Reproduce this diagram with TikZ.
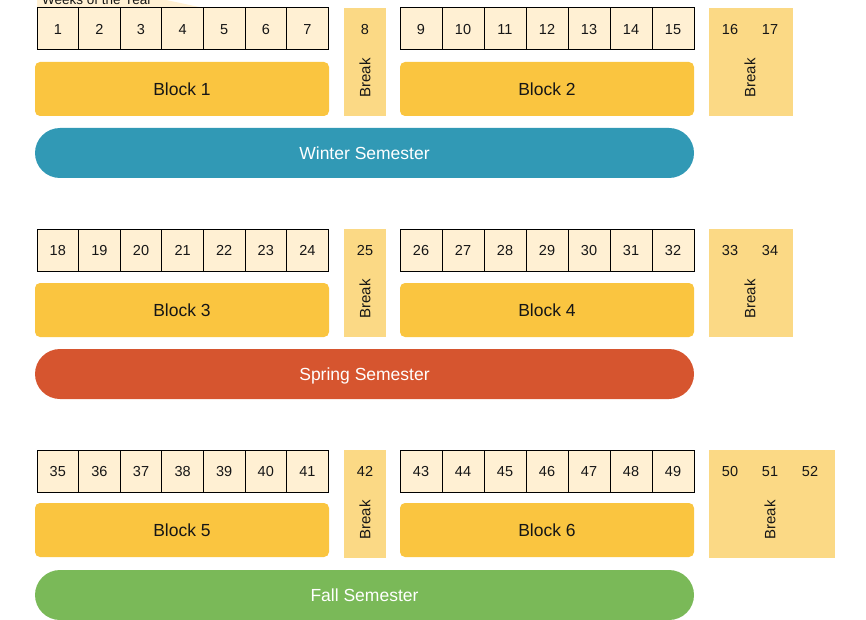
\documentclass[tikz,border=0pt]{standalone}
\usepackage{fontspec}
\setmainfont{Liberation Sans}
\definecolor{weekfill}{HTML}{FFF0D3}
\definecolor{blockfill}{HTML}{FAC540}
\definecolor{breakfill}{HTML}{FBD985}
\definecolor{winter}{HTML}{3199B5}
\definecolor{spring}{HTML}{D6552F}
\definecolor{fall}{HTML}{7AB958}
\definecolor{ink}{HTML}{161616}
\begin{document}
\begin{tikzpicture}[x=1pt,y=-1pt,text=ink,
    week/.style={draw,line width=1pt,fill=weekfill,minimum width=41.6pt,minimum height=42pt,inner sep=0pt,text height=10.5pt,text depth=0pt,font=\fontsize{14.5}{16}\selectfont},
    block/.style={fill=blockfill,rounded corners=5pt,minimum width=294pt,minimum height=54pt,text height=12.5pt,text depth=0pt,font=\fontsize{17.5}{20}\selectfont},
    breakbox/.style={fill=breakfill,inner sep=0pt,minimum height=108pt},
    breaknum/.style={text height=10.5pt,text depth=0pt,font=\fontsize{14.5}{16}\selectfont},
    breaklabel/.style={rotate=90,font=\fontsize{15}{16}\selectfont},
    semester/.style={rounded corners=25pt,minimum width=659pt,minimum height=50pt,text=white,text height=12.5pt,text depth=0pt,font=\fontsize{17.5}{20}\selectfont}]
    \useasboundingbox (0,0) rectangle (866,620);
    \clip (0,0) rectangle (866,620);

    % tab
    \fill[weekfill] (37,8) -- (37,-14) -- (100,-14) -- (204,8) -- cycle;
    \node[anchor=base west,inner sep=0pt,font=\fontsize{13.5}{15}\selectfont] (tab) at (42,5) {Weeks of the Year};

    % winter
    \node[week] (w1) at (57.8,29) {1};
    \node[week] (w2) at (99.4,29) {2};
    \node[week] (w3) at (141.0,29) {3};
    \node[week] (w4) at (182.6,29) {4};
    \node[week] (w5) at (224.2,29) {5};
    \node[week] (w6) at (265.8,29) {6};
    \node[week] (w7) at (307.4,29) {7};
    \node[breakbox,minimum width=42pt] (k8) at (365,62) {};
    \node[breaknum] (n8) at (365,29) {8};
    \node[breaklabel] (l8) at (365,78) {Break};
    \node[week,minimum width=42pt] (w9) at (421,29) {9};
    \node[week,minimum width=42pt] (w10) at (463,29) {10};
    \node[week,minimum width=42pt] (w11) at (505,29) {11};
    \node[week,minimum width=42pt] (w12) at (547,29) {12};
    \node[week,minimum width=42pt] (w13) at (589,29) {13};
    \node[week,minimum width=42pt] (w14) at (631,29) {14};
    \node[week,minimum width=42pt] (w15) at (673,29) {15};
    \node[breakbox,minimum width=84pt] (k16) at (751,62) {};
    \node[breaknum] (n16) at (730,29) {16};
    \node[breaknum] (n17) at (770,29) {17};
    \node[breaklabel] (l16) at (750,78) {Break};
    \node[block] (B1) at (182,89) {Block 1};
    \node[block] (B2) at (547,89) {Block 2};
    \node[semester,fill=winter] (S1) at (364.5,153) {Winter Semester};

    % spring
    \node[week] (w18) at (57.8,250) {18};
    \node[week] (w19) at (99.4,250) {19};
    \node[week] (w20) at (141.0,250) {20};
    \node[week] (w21) at (182.6,250) {21};
    \node[week] (w22) at (224.2,250) {22};
    \node[week] (w23) at (265.8,250) {23};
    \node[week] (w24) at (307.4,250) {24};
    \node[breakbox,minimum width=42pt] (k25) at (365,283) {};
    \node[breaknum] (n25) at (365,250) {25};
    \node[breaklabel] (l25) at (365,299) {Break};
    \node[week,minimum width=42pt] (w26) at (421,250) {26};
    \node[week,minimum width=42pt] (w27) at (463,250) {27};
    \node[week,minimum width=42pt] (w28) at (505,250) {28};
    \node[week,minimum width=42pt] (w29) at (547,250) {29};
    \node[week,minimum width=42pt] (w30) at (589,250) {30};
    \node[week,minimum width=42pt] (w31) at (631,250) {31};
    \node[week,minimum width=42pt] (w32) at (673,250) {32};
    \node[breakbox,minimum width=84pt] (k33) at (751,283) {};
    \node[breaknum] (n33) at (730,250) {33};
    \node[breaknum] (n34) at (770,250) {34};
    \node[breaklabel] (l33) at (750,299) {Break};
    \node[block] (B3) at (182,310) {Block 3};
    \node[block] (B4) at (547,310) {Block 4};
    \node[semester,fill=spring] (S2) at (364.5,374) {Spring Semester};

    % fall
    \node[week] (w35) at (57.8,471) {35};
    \node[week] (w36) at (99.4,471) {36};
    \node[week] (w37) at (141.0,471) {37};
    \node[week] (w38) at (182.6,471) {38};
    \node[week] (w39) at (224.2,471) {39};
    \node[week] (w40) at (265.8,471) {40};
    \node[week] (w41) at (307.4,471) {41};
    \node[breakbox,minimum width=42pt] (k42) at (365,504) {};
    \node[breaknum] (n42) at (365,471) {42};
    \node[breaklabel] (l42) at (365,520) {Break};
    \node[week,minimum width=42pt] (w43) at (421,471) {43};
    \node[week,minimum width=42pt] (w44) at (463,471) {44};
    \node[week,minimum width=42pt] (w45) at (505,471) {45};
    \node[week,minimum width=42pt] (w46) at (547,471) {46};
    \node[week,minimum width=42pt] (w47) at (589,471) {47};
    \node[week,minimum width=42pt] (w48) at (631,471) {48};
    \node[week,minimum width=42pt] (w49) at (673,471) {49};
    \node[breakbox,minimum width=126pt] (k50) at (772,504) {};
    \node[breaknum] (n50) at (730,471) {50};
    \node[breaknum] (n51) at (770,471) {51};
    \node[breaknum] (n52) at (810,471) {52};
    \node[breaklabel] (l50) at (770,520) {Break};
    \node[block] (B5) at (182,530) {Block 5};
    \node[block] (B6) at (547,530) {Block 6};
    \node[semester,fill=fall] (S3) at (364.5,595) {Fall Semester};
\end{tikzpicture}
\end{document}
